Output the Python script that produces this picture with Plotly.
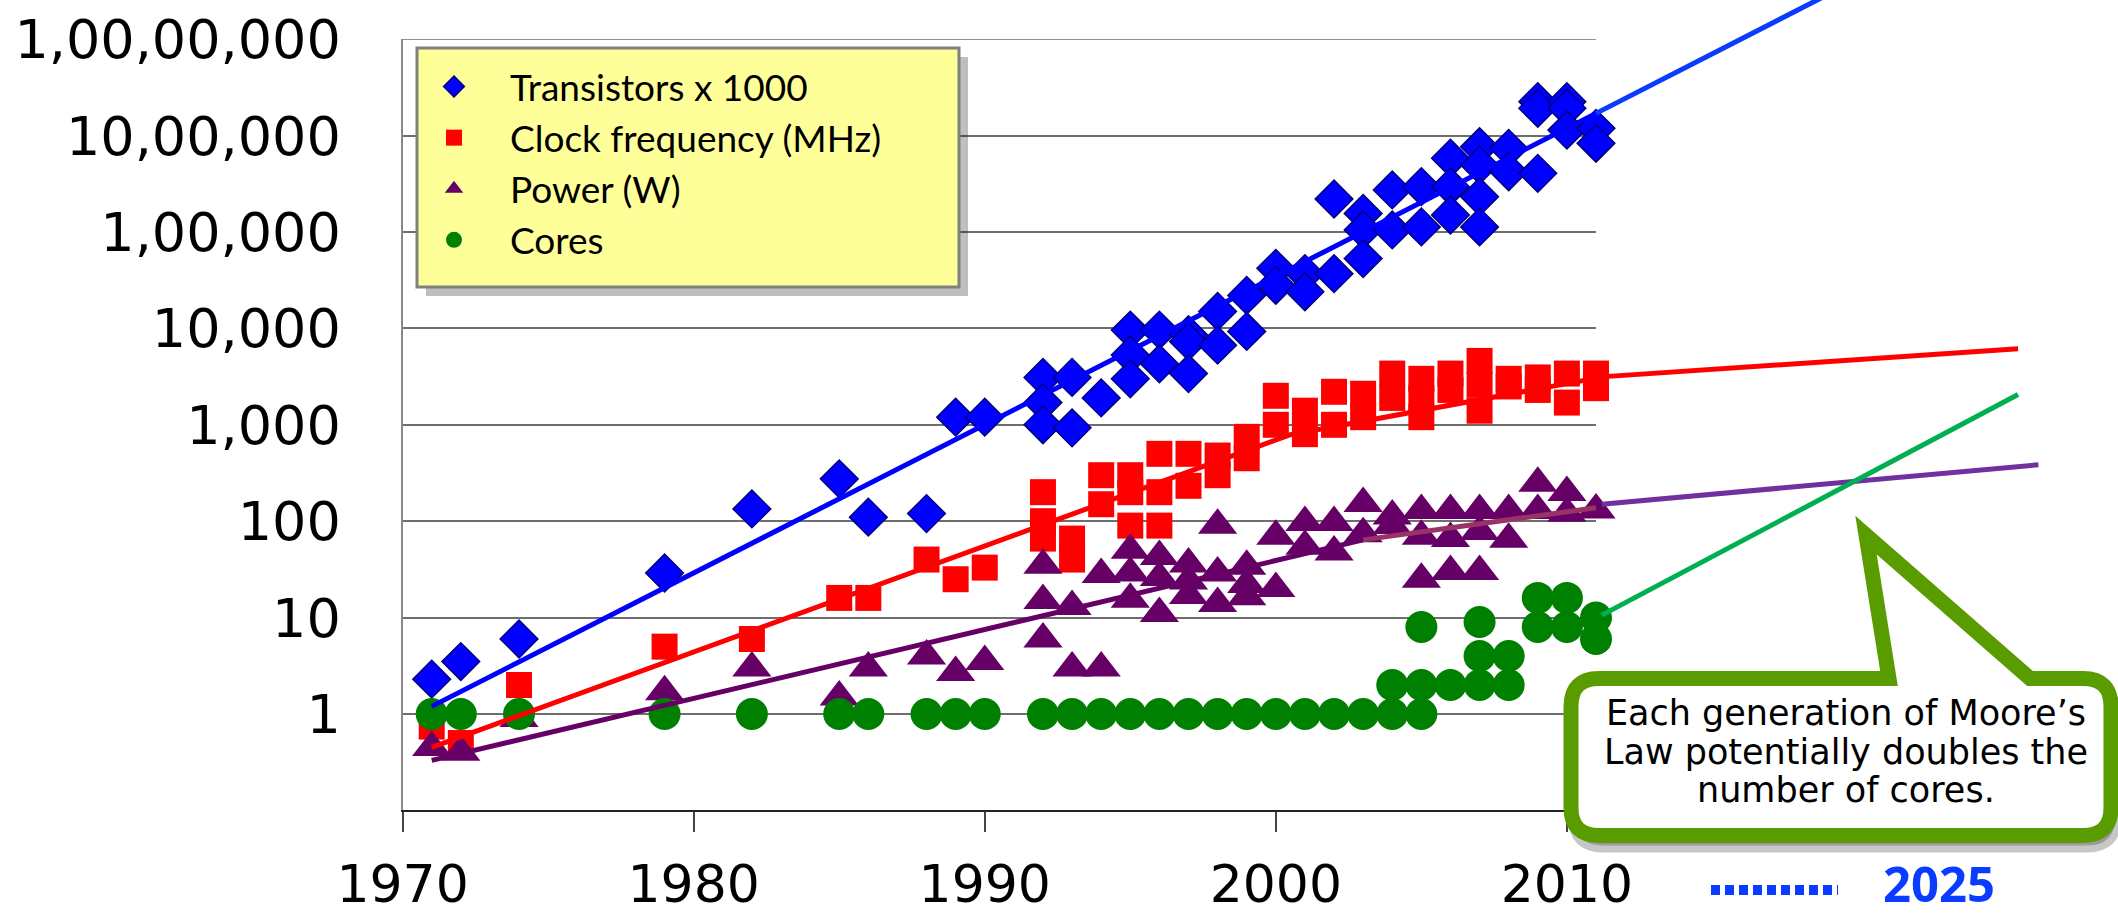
import plotly.graph_objects as go

W, H = 2118, 916

# ------------------------------------------------------------------ data
transistor_years = [1971, 1972, 1974, 1979, 1982, 1985, 1986, 1988, 1989, 1990,
                    1992, 1992, 1992, 1993, 1993, 1994, 1995, 1995, 1995, 1996, 1996,
                    1997, 1997, 1997, 1998, 1998, 1999, 1999, 2000, 2000, 2001, 2001,
                    2002, 2002, 2003, 2003, 2003, 2004, 2004, 2005, 2005,
                    2006, 2006, 2006, 2007, 2007, 2007, 2007, 2008, 2008,
                    2009, 2009, 2009, 2010, 2010, 2010, 2011, 2011]
transistor_values = [2.3, 3.5, 6, 29, 134, 275, 110, 120, 1200, 1200,
                     3100, 1700, 1000, 3100, 930, 1900, 9600, 5300, 3000, 9600, 4300,
                     8600, 7300, 3400, 15000, 6700, 22000, 9300, 42000, 28000, 37000, 24000,
                     220000, 37000, 156000, 105000, 53000, 273000, 105000, 295000, 113000,
                     582000, 295000, 150000, 767000, 495000, 232000, 113000, 738000, 422000,
                     2250000, 1920000, 406000, 2250000, 1920000, 1140000, 1190000, 832000]

clock_years = [1971, 1972, 1974, 1979, 1982, 1985, 1986, 1988, 1989, 1990,
               1992, 1992, 1992, 1993, 1993, 1994, 1994, 1995, 1995, 1995,
               1996, 1996, 1996, 1997, 1997, 1998, 1998, 1999, 1999, 2000, 2000,
               2001, 2001, 2002, 2002, 2003, 2003, 2004, 2004, 2005, 2005, 2005,
               2006, 2006, 2007, 2007, 2007, 2008, 2008, 2009, 2009, 2010, 2010,
               2011, 2011]
clock_values = [0.74, 0.5, 2, 5, 6, 16, 16, 40, 25, 33,
                200, 100, 66, 66, 40, 300, 150, 300, 200, 90,
                500, 200, 90, 500, 233, 480, 300, 750, 450, 2000, 1000,
                1400, 800, 2200, 1000, 2100, 1200, 3400, 1900, 3000, 1900, 1200,
                3400, 2300, 4600, 2600, 1400, 3000, 2500, 3100, 2300, 3400, 1700,
                3400, 2400]

power_years = [1971, 1972, 1974, 1979, 1982, 1985, 1986, 1988, 1989, 1990,
               1992, 1992, 1992, 1993, 1993, 1994, 1994, 1995, 1995, 1995,
               1996, 1996, 1996, 1997, 1997, 1997, 1998, 1998, 1998,
               1999, 1999, 1999, 2000, 2000, 2001, 2001, 2002, 2002, 2003, 2003,
               2004, 2004, 2005, 2005, 2005, 2006, 2006, 2006, 2007, 2007, 2007,
               2008, 2008, 2009, 2009, 2010, 2010, 2011]
power_values = [0.45, 0.4, 0.9, 1.7, 3, 1.5, 3, 4, 2.7, 3.5,
                35, 15, 6, 13, 3, 28, 3, 50, 29, 15.5,
                43, 26, 11, 36, 24, 17, 91, 29, 14,
                34, 22, 16.5, 70, 20, 97, 55, 97, 48, 153, 74,
                113, 90, 129, 70, 25, 129, 66, 30, 129, 78, 30,
                129, 65, 247, 129, 198, 121, 131]

core_years = [1971, 1972, 1974, 1979, 1982, 1985, 1986, 1988, 1989, 1990,
              1992, 1993, 1994, 1995, 1996, 1997, 1998, 1999, 2000, 2001,
              2002, 2003, 2004, 2004, 2005, 2005, 2005, 2006,
              2007, 2007, 2007, 2008, 2008, 2009, 2009, 2010, 2010, 2011, 2011]
core_values = [1, 1, 1, 1, 1, 1, 1, 1, 1, 1,
               1, 1, 1, 1, 1, 1, 1, 1, 1, 1,
               1, 1, 1, 2, 8, 2, 1, 2,
               9, 4, 2, 4, 2, 16, 8, 16, 8, 10, 6]

# trend lines (fitted lines drawn in the picture) and their projections
transistor_trend_years = [1971, 2011]
transistor_trend_values = [1.2, 1.7e6]
transistor_proj_years = [2011, 2020]
transistor_proj_values = [1.7e6, 4.2e7]

clock_trend_years = [1971, 2000.5, 2011.3]
clock_trend_values = [0.45, 790, 3160]
clock_proj_years = [2011.3, 2025.5]
clock_proj_values = [3160, 6150]

power_trend_years = [1971, 2003]
power_trend_values = [0.33, 64]
power_late_years = [2003, 2011]
power_late_values = [64, 138]
power_proj_years = [2011.2, 2026.2]
power_proj_values = [150, 385]

core_proj_years = [2011.2, 2025.5]
core_proj_values = [10.6, 2060]

y_tickvals = [1, 10, 100, 1000, 10000, 100000, 1000000, 10000000]
y_ticktext = ["1", "10", "100", "1,000", "10,000", "1,00,000", "10,00,000", "1,00,00,000"]
x_tickvals = [1970, 1980, 1990, 2000, 2010]

series_names = ["Transistors x 1000", "Clock frequency (MHz)", "Power (W)", "Cores"]
callout_lines = ["Each generation of Moore\u2019s", "Law potentially doubles the", "number of cores."]
future_label = "2025"

# ------------------------------------------------------------ geometry
PLOT_L, PLOT_R = 402.6, 1596.0
PLOT_T, PLOT_B = 39.2, 810.4
X_MIN, X_MAX = 1970, 2011
Y_MIN_EXP, Y_MAX_EXP = -1, 7

px_per_year = (PLOT_R - PLOT_L) / (X_MAX - X_MIN)
px_per_decade = (PLOT_B - PLOT_T) / (Y_MAX_EXP - Y_MIN_EXP)
x2_range = [X_MIN - PLOT_L / px_per_year, X_MIN + (W - PLOT_L) / px_per_year]
y2_range = [Y_MIN_EXP - (H - PLOT_B) / px_per_decade, Y_MIN_EXP + PLOT_B / px_per_decade]


def px(x):
    return x / W


def py(y):
    return 1 - y / H


def pt(x, y):
    return f"{px(x):.5f},{py(y):.5f}"


fig = go.Figure()

# ------------------------------------------------------------ scatter series
marker_styles = [
    dict(symbol="diamond", size=29, color="#0000FF", line=dict(color="#000080", width=1.5)),
    dict(symbol="square", size=26, color="#FF0000", line=dict(width=0)),
    dict(symbol="triangle-up", size=34, color="#660066", line=dict(width=0)),
    dict(symbol="circle", size=32, color="#008000", line=dict(width=0)),
]
series = [(transistor_years, transistor_values), (clock_years, clock_values),
          (power_years, power_values), (core_years, core_values)]
for name, (xs, ys), mk in zip(series_names, series, marker_styles):
    fig.add_trace(go.Scatter(x=xs, y=ys, mode="markers", name=name, marker=mk,
                             cliponaxis=False, xaxis="x", yaxis="y", hoverinfo="skip"))

# ------------------------------------------------------------ trend lines (overlay axes)
lines = [
    (transistor_trend_years, transistor_trend_values, "#0000FF"),
    (transistor_proj_years, transistor_proj_values, "#0A3CFF"),
    (clock_trend_years, clock_trend_values, "#FF0000"),
    (clock_proj_years, clock_proj_values, "#FF0000"),
    (power_trend_years, power_trend_values, "#660066"),
    (power_late_years, power_late_values, "#993366"),
    (power_proj_years, power_proj_values, "#7030A0"),
    (core_proj_years, core_proj_values, "#00B050"),
]
for xs, ys, col in lines:
    fig.add_trace(go.Scatter(x=xs, y=ys, mode="lines", line=dict(color=col, width=5),
                             showlegend=False, xaxis="x2", yaxis="y2", hoverinfo="skip"))

# ------------------------------------------------------------ shapes
shapes = []
# top border gridline of the plot area (at the top tick)
shapes.append(dict(type="line", xref="x", yref="y", layer="below",
                   x0=X_MIN, x1=X_MAX, y0=y_tickvals[-1], y1=y_tickvals[-1],
                   line=dict(color="#6E6E6E", width=1.7)))
# legend box shadow + box
LB = dict(x0=417, x1=959, y0=48, y1=287)
shapes.append(dict(type="rect", xref="paper", yref="paper", layer="above",
                   x0=px(LB["x0"] + 9), x1=px(LB["x1"] + 9), y0=py(LB["y1"] + 9), y1=py(LB["y0"] + 9),
                   fillcolor="rgba(0,0,0,0.25)", line=dict(width=0)))
shapes.append(dict(type="rect", xref="paper", yref="paper", layer="above",
                   x0=px(LB["x0"]), x1=px(LB["x1"]), y0=py(LB["y1"]), y1=py(LB["y0"]),
                   fillcolor="#FFFF99", line=dict(color="#808080", width=3)))


def callout_path(dx=0.0, dy=0.0):
    L, R, T, B, r = 1571 + dx, 2111 + dx, 678.5 + dy, 835.5 + dy, 28
    xl, xr = 1889 + dx, 2030 + dx
    tx, ty = 1866 + dx, 535 + dy
    return ("M" + pt(L + r, T) + "L" + pt(xl, T) + "L" + pt(tx, ty) + "L" + pt(xr, T)
            + "L" + pt(R - r, T) + "Q" + pt(R, T) + " " + pt(R, T + r)
            + "L" + pt(R, B - r) + "Q" + pt(R, B) + " " + pt(R - r, B)
            + "L" + pt(L + r, B) + "Q" + pt(L, B) + " " + pt(L, B - r)
            + "L" + pt(L, T + r) + "Q" + pt(L, T) + " " + pt(L + r, T) + "Z")


shapes.append(dict(type="path", xref="paper", yref="paper", layer="above",
                   path=callout_path(4, 10), fillcolor="rgba(0,0,0,0.22)",
                   line=dict(color="rgba(0,0,0,0.22)", width=14)))
shapes.append(dict(type="path", xref="paper", yref="paper", layer="above",
                   path=callout_path(), fillcolor="#FFFFFF",
                   line=dict(color="#599C00", width=15)))
# dotted lead-in to 2025
shapes.append(dict(type="line", xref="paper", yref="paper", layer="above",
                   x0=px(1711), x1=px(1838), y0=py(890), y1=py(890),
                   line=dict(color="#0A3CFF", width=10, dash="9px,5px")))

# ------------------------------------------------------------ annotations
annotations = []
for txt, yy in zip(callout_lines, [713, 752, 790]):
    annotations.append(dict(text=txt, x=px(1846), y=py(yy), xref="paper", yref="paper",
                            showarrow=False, xanchor="center", yanchor="middle",
                            font=dict(family="DejaVu Sans", size=35, color="#000000")))
annotations.append(dict(text="<b>" + future_label + "</b>", x=px(1939), y=py(883),
                        xref="paper", yref="paper", showarrow=False,
                        xanchor="center", yanchor="middle", borderpad=0,
                        font=dict(family="Open Sans", size=49, color="#0A3CFF")))

y_tick_font = dict(family="DejaVu Sans", size=54, color="#000000")
x_tick_font = dict(family="DejaVu Sans", size=52, color="#000000")

fig.update_layout(
    width=W, height=H,
    margin=dict(l=0, r=0, t=0, b=0, pad=0),
    paper_bgcolor="#FFFFFF",
    plot_bgcolor="rgba(0,0,0,0)",
    showlegend=True,
    legend=dict(x=px(398), y=py(56), xanchor="left", yanchor="top",
                bgcolor="rgba(0,0,0,0)", borderwidth=0,
                font=dict(family="Lato", size=37, color="#000000"),
                itemwidth=102, traceorder="normal"),
    xaxis=dict(domain=[px(PLOT_L), px(PLOT_R)], range=[X_MIN, X_MAX],
               tickmode="array", tickvals=x_tickvals, ticks="outside", ticklen=20,
               tickwidth=1.5, tickcolor="#444444", showline=True, linecolor="#222222",
               linewidth=2, showgrid=False, zeroline=False, tickfont=x_tick_font,
               ticklabelstandoff=7, anchor="y", fixedrange=True, automargin=False),
    yaxis=dict(domain=[py(PLOT_B), py(PLOT_T)], type="log", range=[Y_MIN_EXP, Y_MAX_EXP],
               tickmode="array", tickvals=y_tickvals, ticktext=y_ticktext, ticks="",
               showline=True, linecolor="#888888", linewidth=2,
               showgrid=True, gridcolor="#6E6E6E", gridwidth=1.7, zeroline=False,
               tickfont=y_tick_font, ticklabelstandoff=49, anchor="x",
               fixedrange=True, automargin=False),
    xaxis2=dict(domain=[0, 1], range=x2_range, visible=False, anchor="y2", fixedrange=True),
    yaxis2=dict(domain=[0, 1], type="log", range=y2_range, visible=False, anchor="x2",
                fixedrange=True),
    shapes=shapes,
    annotations=annotations,
)

fig.write_html("out.html", include_plotlyjs=True, full_html=True,
               config={"displayModeBar": False, "responsive": False},
               post_script="document.body.style.margin='0';document.body.style.overflow='hidden';")
